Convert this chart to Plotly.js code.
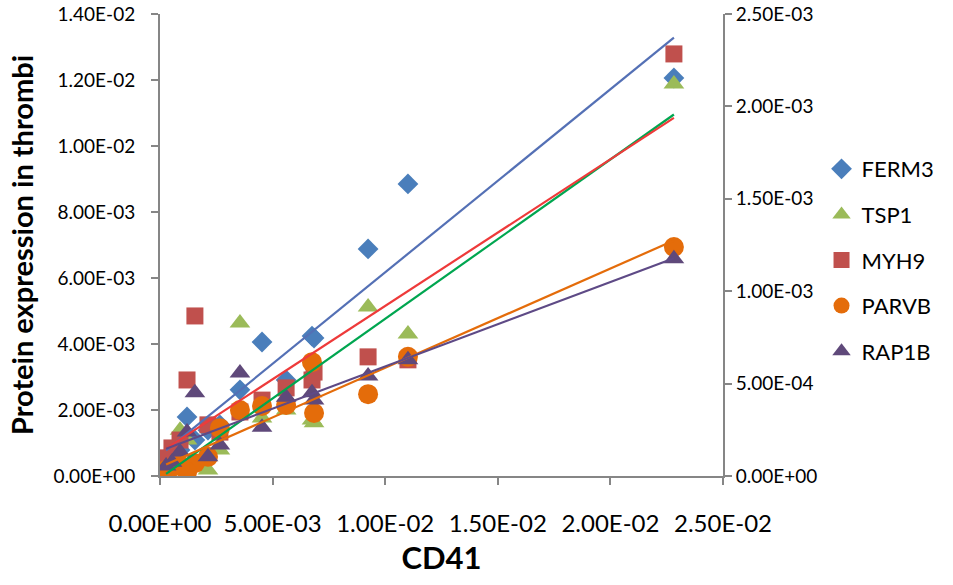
<!DOCTYPE html>
<html>
<head>
<meta charset="utf-8">
<script src="https://cdn.plot.ly/plotly-3.0.1.min.js"></script>
<style>html,body{margin:0;padding:0;background:#fff;}#chart{width:953px;height:585px;}</style>
</head>
<body>
<div id="chart"></div>
<script>
// CD41 values (x) shared by all series
var cd41 = [0.02282, 0.01101, 0.00924, 0.00675, 0.00560, 0.00453, 0.00355, 0.00266, 0.00213, 0.00155, 0.00120, 0.00089, 0.00053, 0.00027, 0.00684];
var ferm3 = [0.01206, 0.00885, 0.00688, 0.00424, 0.00291, 0.00406, 0.00261, 0.00155, 0.00139, 0.00109, 0.00179, 0.00079, 0.00064, 0.00048, 0.00418];
var tsp1  = [0.01188, 0.00430, 0.00512, 0.00170, 0.00200, 0.00176, 0.00464, 0.00079, 0.00018, 0.00042, 0.00109, 0.00139, 0.00033, 0.00024, 0.00161];
var myh9  = [0.01279, 0.00352, 0.00361, 0.00291, 0.00267, 0.00230, 0.00194, 0.00133, 0.00155, 0.00485, 0.00291, 0.00109, 0.00085, 0.00055, 0.00315];
var parvb = [0.00694, 0.00361, 0.00248, 0.00345, 0.00215, 0.00212, 0.00200, 0.00145, 0.00058, 0.00039, 0.00012, 0.00033, 0.00027, 0.00018, 0.00191];
var rap1b = [0.00658, 0.00352, 0.00303, 0.00252, 0.00239, 0.00148, 0.00312, 0.00094, 0.00058, 0.00252, 0.00133, 0.00073, 0.00042, 0.00030, 0.00230];

var seriesNames = ['FERM3', 'TSP1', 'MYH9', 'PARVB', 'RAP1B'];
var xTicks  = [0, 0.005, 0.01, 0.015, 0.02, 0.025];
var yTicks  = [0, 0.002, 0.004, 0.006, 0.008, 0.01, 0.012, 0.014];
var y2Ticks = [0, 0.0005, 0.001, 0.0015, 0.002, 0.0025];

function fmt(v) {
  var s = v.toExponential(2).toUpperCase();
  return s.replace(/E([+-])(\d)$/, 'E$10$2');
}

var seriesData = [ferm3, tsp1, myh9, parvb, rap1b];
var markerColors = ['#4a7ebb', '#9bbb59', '#c0504d', '#e46c0a', '#5f497a'];
var lineColors   = ['#5470b5', '#00a650', '#ee3a3a', '#e46c0a', '#5e4a86'];
var symbols = ['diamond', 'triangle-up', 'square', 'circle', 'triangle-up'];
var sizes = [16, 18, 17, 20, 18];

var FONT = 'Lato, "Liberation Sans", sans-serif';
var traces = [];
seriesData.forEach(function (ys, i) {
  traces.push({
    type: 'scatter', mode: 'markers', name: seriesNames[i],
    x: cd41, y: ys, legendgroup: 'g' + i,
    marker: {symbol: symbols[i], color: markerColors[i], size: sizes[i], line: {width: 0}},
    hoverinfo: 'x+y+name'
  });
});
// linear trendlines (least squares) over each series' x range
seriesData.forEach(function (ys, i) {
  var n = cd41.length, sx = 0, sy = 0, sxx = 0, sxy = 0;
  for (var k = 0; k < n; k++) { sx += cd41[k]; sy += ys[k]; sxx += cd41[k] * cd41[k]; sxy += cd41[k] * ys[k]; }
  var m = (n * sxy - sx * sy) / (n * sxx - sx * sx);
  var b = (sy - m * sx) / n;
  var x0 = Math.min.apply(null, cd41), x1 = Math.max.apply(null, cd41);
  traces.push({
    type: 'scatter', mode: 'lines', x: [x0, x1], y: [m * x0 + b, m * x1 + b],
    line: {color: lineColors[i], width: 2.2}, showlegend: false, hoverinfo: 'skip'
  });
});
// secondary axis carrier
traces.push({type: 'scatter', mode: 'markers', x: [], y: [], yaxis: 'y2', showlegend: false, hoverinfo: 'skip'});

var axisLine = '#868686';
var layout = {
  width: 953, height: 585,
  margin: {l: 160, r: 230, t: 14, b: 109},
  paper_bgcolor: '#fff', plot_bgcolor: '#fff',
  font: {family: FONT, color: '#000', size: 16},
  showlegend: true,
  legend: {x: 1.175, y: 0.71, xanchor: 'left', yanchor: 'top', font: {family: FONT, size: 22, color: '#000'},
           tracegroupgap: 14, itemwidth: 30, bgcolor: 'rgba(0,0,0,0)'},
  xaxis: {
    range: [0, 0.025], tickvals: xTicks, ticktext: xTicks.map(fmt),
    showgrid: false, zeroline: false, showline: true, linecolor: axisLine, linewidth: 2,
    ticks: 'outside', ticklen: 7, tickwidth: 2, tickcolor: axisLine, ticklabelstandoff: 18,
    tickfont: {family: FONT, size: 24, color: '#000'},
    title: {text: 'CD41', font: {family: FONT, size: 31, color: '#000', weight: 700}, standoff: 12},
    fixedrange: true
  },
  yaxis: {
    range: [0, 0.014], tickvals: yTicks, ticktext: yTicks.map(fmt),
    showgrid: false, zeroline: false, showline: true, linecolor: axisLine, linewidth: 2,
    ticks: 'outside', ticklen: 7, tickwidth: 2, tickcolor: axisLine, ticklabelstandoff: 12,
    tickfont: {family: FONT, size: 19, color: '#000'},
    title: {text: 'Protein expression in thrombi', font: {family: FONT, size: 29, color: '#000', weight: 700}, standoff: 11},
    fixedrange: true
  },
  yaxis2: {
    overlaying: 'y', side: 'right', range: [0, 0.0025], tickvals: y2Ticks, ticktext: y2Ticks.map(fmt),
    showgrid: false, zeroline: false, showline: true, linecolor: axisLine, linewidth: 2,
    ticks: 'outside', ticklen: 7, tickwidth: 2, tickcolor: axisLine, ticklabelstandoff: 0,
    tickfont: {family: FONT, size: 19, color: '#000'},
    fixedrange: true
  }
};

Plotly.newPlot('chart', traces, layout, {displayModeBar: false, staticPlot: false});
</script>
</body>
</html>
